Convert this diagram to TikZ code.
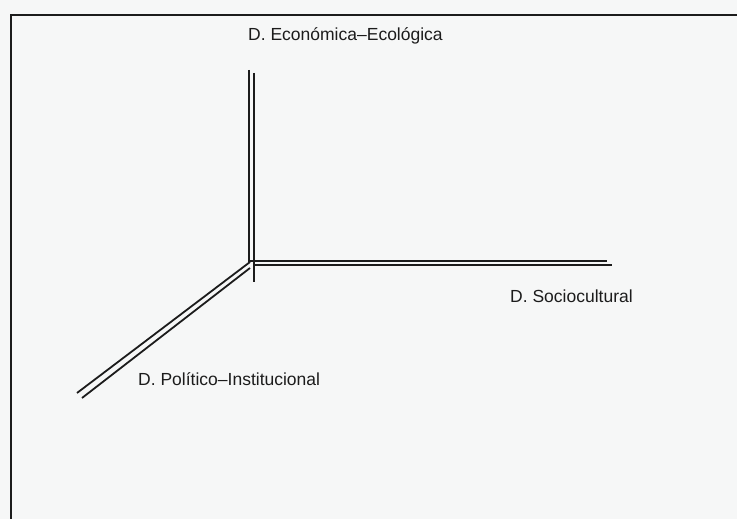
\documentclass[tikz,border=0pt]{standalone}
\usepackage{fontspec}
\setmainfont{Liberation Sans}
\usetikzlibrary{positioning}
\definecolor{paper}{HTML}{F6F7F7}
\definecolor{ink}{HTML}{1C1C1C}

\tikzset{
  axisline/.style={ink, line width=1.8pt},
  dimlabel/.style={anchor=west, inner sep=0pt, text=ink, font=\fontsize{17.5}{19}\selectfont}
}

\begin{document}
\begin{tikzpicture}[x=1pt,y=-1pt]
\fill[paper] (0,0) rectangle (737,519);
\useasboundingbox (0,0) rectangle (737,519);
% frame (only top and left edges visible)
\draw[ink, line width=1.8pt] (737,15) -- (11,15) -- (11,519);

% axes end points
\coordinate (eco1) at (249,70);
\coordinate (eco2) at (254,73);
\coordinate (soc1) at (607,261);
\coordinate (soc2) at (612,265);
\coordinate (pol1) at (77,393);
\coordinate (pol2) at (82,398);

% vertical axis
\draw[axisline] (eco1) -- (249,263);
\draw[axisline] (eco2) -- (254,282);
% horizontal axis
\draw[axisline] (250,261) -- (soc1);
\draw[axisline] (255,265) -- (soc2);
% diagonal axis
\draw[axisline] (250,262) -- (pol1);
\draw[axisline] (250,268) -- (pol2);

\node[dimlabel] (ecolab) at (248,36) {D. Económica–Ecológica};
\node[dimlabel] (soclab) at (510,296) {D. Sociocultural};
\node[dimlabel] (pollab) at (138,379) {D. Político–Institucional};
\end{tikzpicture}
\end{document}
